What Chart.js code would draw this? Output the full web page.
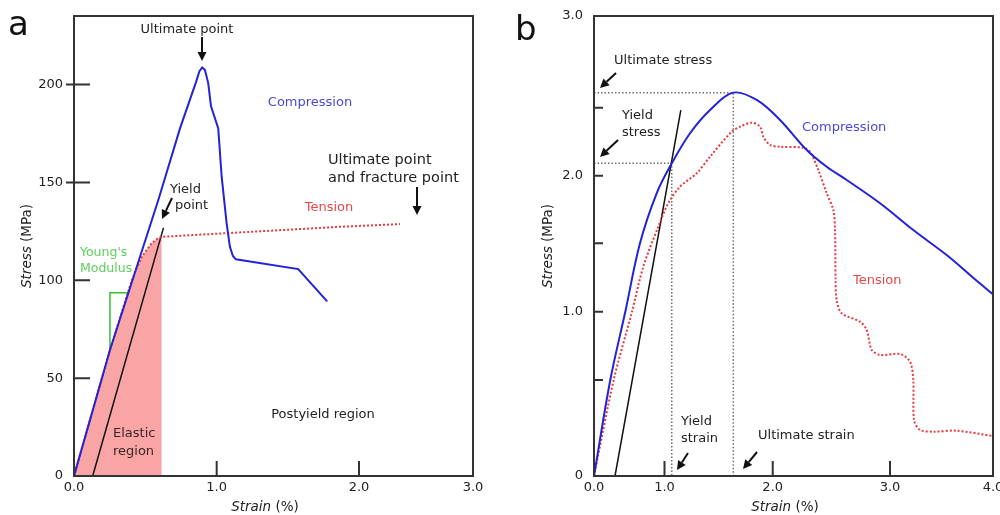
<!DOCTYPE html>
<html>
<head>
<meta charset="utf-8">
<title>Stress-strain curves</title>
<script src="https://cdn.jsdelivr.net/npm/chart.js@4.4.1/dist/chart.umd.min.js"></script>
<style>
  html, body { margin: 0; padding: 0; background: #fff; }
  .panel { position: absolute; top: 0; width: 500px; height: 515px; }
  #panelA { left: 0; }
  #panelB { left: 500px; }
</style>
</head>
<body>
<div class="panel" id="panelA"><canvas id="chartA" width="500" height="515"></canvas></div>
<div class="panel" id="panelB"><canvas id="chartB" width="500" height="515"></canvas></div>
<script>
// ---- panel a: strain (%) vs stress (MPa) ----
const compStrainA = [0, 0.252, 0.591, 0.743, 0.855, 0.879, 0.899, 0.918, 0.941, 0.960, 1.011, 1.035, 1.070, 1.093, 1.114, 1.135, 1.573, 1.773];
const compStressA = [0, 64.4, 141.0, 177.6, 201.2, 206.8, 208.7, 207.4, 200.6, 189.0, 177.6, 152.9, 129.1, 117.1, 112.4, 110.7, 105.7, 89.5];
const tensStrainA = [0, 0.252, 0.357, 0.399, 0.439, 0.474, 0.509, 0.540, 0.568, 0.592, 0.615, 1.866, 2.360];
const tensStressA = [0, 64.4, 88.9, 98.6, 106.2, 111.8, 115.4, 118.5, 120.3, 121.6, 122.2, 127.3, 128.7];
const yieldIndexA = 10;            // last point of the elastic part of the tension curve
const offsetStrainA = [0.131, 0.626];
const offsetStressA = [0, 126.5];
const youngStressA = [64.4, 93.6]; // rise of the modulus triangle
const xTicksA = [0, 1, 2, 3];
const xLabelsA = ['0.0', '1.0', '2.0', '3.0'];
const yTicksA = [0, 50, 100, 150, 200];
const yLabelsA = ['0', '50', '100', '150', '200'];

// ---- panel b ----
const compStrainB = [0, 0.231, 0.444, 0.652, 0.889, 1.067, 1.236, 1.421, 1.636, 1.852, 2.062, 2.290, 2.460, 2.631, 2.915, 3.226, 3.550, 3.825, 4.0];
const compStressB = [0, 0.5, 1.0, 1.5, 1.870, 2.091, 2.312, 2.483, 2.582, 2.542, 2.410, 2.189, 2.066, 1.968, 1.796, 1.598, 1.414, 1.237, 1.127];
const tensStrainB = [0, 0.279, 0.539, 0.699, 0.912, 1.035, 1.143, 1.298, 1.421, 1.621, 1.698, 1.806, 1.883, 1.913, 1.975, 2.062, 2.261, 2.318, 2.389, 2.460, 2.517, 2.531, 2.536, 2.545, 2.588, 2.744, 2.801, 2.844, 2.915, 3.097, 3.194, 3.226, 3.233, 3.291, 3.420, 3.648, 4.0];
const tensStressB = [0, 0.5, 1.0, 1.329, 1.623, 1.796, 1.919, 2.018, 2.140, 2.324, 2.360, 2.390, 2.360, 2.287, 2.226, 2.213, 2.206, 2.176, 2.042, 1.870, 1.746, 1.598, 1.232, 1.086, 0.988, 0.927, 0.866, 0.720, 0.683, 0.690, 0.634, 0.5, 0.292, 0.240, 0.231, 0.236, 0.208];
const yieldIndexB = 5;             // compression point where the offset line crosses
const offsetStrainB = [0.298, 1.150];
const offsetStressB = [0, 2.478];
const xTicksB = [0, 1, 2, 3, 4];
const xLabelsB = ['0.0', '1.0', '2.0', '3.0', '4.0'];
const yTicksB = [0, 0.5, 1, 1.5, 2, 2.5, 3];
const yLabelsB = ['0', '', '1.0', '', '2.0', '', '3.0'];

const BLUE = '#2222d8', BLUE_TEXT = '#4a4ad8';
const RED = '#e8383d', RED_TEXT = '#e6474b';
const GREEN = '#2fc42f', GREEN_TEXT = '#5ccf5c';
const INK = '#222';
const FONT = "'DejaVu Sans', Verdana, sans-serif";

Chart.defaults.font.family = FONT;
Chart.defaults.font.size = 13;
Chart.defaults.color = INK;

// piecewise-linear axis: every labelled interval gets its own stretch of the axis
class SegmentScale extends Chart.LinearScale {
  getPixelForValue(value) {
    if (value === null || value === undefined || isNaN(value)) return NaN;
    const b = this.options.breaks, s = this.options.stops;
    let i = 1;
    while (i < b.length - 1 && value > b[i]) i++;
    const t = (value - b[i - 1]) / (b[i] - b[i - 1]);
    return this.getPixelForDecimal(s[i - 1] + t * (s[i] - s[i - 1]));
  }
  getValueForPixel(pixel) {
    const b = this.options.breaks, s = this.options.stops;
    const d = this.getDecimalForPixel(pixel);
    let i = 1;
    while (i < s.length - 1 && d > s[i]) i++;
    const t = (d - s[i - 1]) / (s[i] - s[i - 1]);
    return b[i - 1] + t * (b[i] - b[i - 1]);
  }
}
SegmentScale.id = 'segment';
SegmentScale.defaults = {};
Chart.register(SegmentScale);

const pts = (xs, ys) => xs.map((x, i) => ({ x, y: ys[i] }));

function interpX(xs, ys, y) {
  for (let i = 1; i < ys.length; i++) {
    if (ys[i] >= y) return xs[i - 1] + (y - ys[i - 1]) / (ys[i] - ys[i - 1]) * (xs[i] - xs[i - 1]);
  }
  return xs[xs.length - 1];
}

function xAxis(ticks, labels, extra) {
  return Object.assign({
    grid: { display: false, drawTicks: false },
    border: { display: false },
    ticks: { autoSkip: false, maxRotation: 0, padding: 4, color: INK, font: { size: 13 }, callback: (v, i) => labels[i] },
    afterBuildTicks: s => { s.ticks = ticks.map(v => ({ value: v })); },
    afterFit: s => { s.height = 39; s.paddingLeft = 0; s.paddingRight = 0; }
  }, extra);
}

function yAxis(ticks, labels, width, extra) {
  return Object.assign({
    grid: { display: false, drawTicks: false },
    border: { display: false },
    ticks: { autoSkip: false, padding: 11, color: INK, font: { size: 13 }, callback: (v, i) => labels[i] },
    afterBuildTicks: s => { s.ticks = ticks.map(v => ({ value: v })); },
    afterFit: s => { s.width = width; s.paddingTop = 0; s.paddingBottom = 0; }
  }, extra);
}

function drawArrow(ctx, x1, y1, x2, y2) {
  const a = Math.atan2(y2 - y1, x2 - x1);
  const head = 9, half = 4.5;
  const bx = x2 - head * Math.cos(a), by = y2 - head * Math.sin(a);
  ctx.strokeStyle = '#111';
  ctx.fillStyle = '#111';
  ctx.lineWidth = 2;
  ctx.beginPath(); ctx.moveTo(x1, y1); ctx.lineTo(bx, by); ctx.stroke();
  ctx.beginPath();
  ctx.moveTo(x2, y2);
  ctx.lineTo(bx + half * Math.sin(a), by - half * Math.cos(a));
  ctx.lineTo(bx - half * Math.sin(a), by + half * Math.cos(a));
  ctx.closePath(); ctx.fill();
}

// box, inward ticks, axis titles, panel letter and the callouts
function decor(o) {
  return {
    id: 'decor',
    afterDraw(chart) {
      const { ctx, chartArea: a, scales } = chart;
      ctx.save();
      ctx.strokeStyle = '#333';
      ctx.lineWidth = 2;
      ctx.strokeRect(a.left, a.top, a.right - a.left, a.bottom - a.top);

      ctx.beginPath();
      scales.x.ticks.forEach(t => {
        const px = scales.x.getPixelForValue(t.value);
        if (px <= a.left + 1 || px >= a.right - 1) return;
        ctx.moveTo(px, a.bottom); ctx.lineTo(px, a.bottom - o.xTick);
      });
      scales.y.ticks.forEach(t => {
        const py = scales.y.getPixelForValue(t.value);
        if (py <= a.top + 1 || py >= a.bottom - 1) return;
        ctx.moveTo(a.left - (t.value >= o.yTickOut ? 8 : 0), py); ctx.lineTo(a.left + o.yTick, py);
      });
      ctx.stroke();

      // axis titles with the italic quantity name
      ctx.fillStyle = INK;
      ctx.textBaseline = 'middle';
      const title = (name, unit, cx, cy, rot) => {
        ctx.save();
        ctx.translate(cx, cy);
        if (rot) ctx.rotate(-Math.PI / 2);
        ctx.font = 'italic 13.5px ' + FONT;
        const w1 = ctx.measureText(name).width;
        ctx.font = '13.5px ' + FONT;
        const w2 = ctx.measureText(unit).width;
        const x0 = -(w1 + w2) / 2;
        ctx.textAlign = 'left';
        ctx.font = 'italic 13.5px ' + FONT;
        ctx.fillText(name, x0, 0);
        ctx.font = '13.5px ' + FONT;
        ctx.fillText(unit, x0 + w1, 0);
        ctx.restore();
      };
      title('Strain', ' (%)', o.xTitle[0], o.xTitle[1], false);
      title('Stress', ' (MPa)', o.yTitle[0], o.yTitle[1], true);

      ctx.font = '34px ' + FONT;
      ctx.textAlign = 'left';
      ctx.textBaseline = 'alphabetic';
      ctx.fillStyle = '#111';
      ctx.fillText(o.letter, o.letterPos[0], o.letterPos[1]);

      ctx.textBaseline = 'middle';
      o.notes.forEach(n => {
        ctx.font = (n.size || 13) + 'px ' + FONT;
        ctx.fillStyle = n.c || INK;
        ctx.textAlign = n.align || 'left';
        ctx.fillText(n.t, n.x, n.y);
      });
      o.arrows.forEach(p => drawArrow(ctx, p[0], p[1], p[2], p[3]));
      ctx.restore();
    }
  };
}

const baseOptions = {
  responsive: false,
  animation: false,
  devicePixelRatio: 1,
  events: [],
  elements: { point: { radius: 0 }, line: { borderCapStyle: 'round' } },
  plugins: { legend: { display: false }, tooltip: { enabled: false } }
};

// ---- chart a ----
const youngX = youngStressA.map(v => interpX(compStrainA, compStressA, v));
new Chart(document.getElementById('chartA'), {
  type: 'line',
  data: {
    datasets: [
      { data: pts(compStrainA, compStressA), borderColor: BLUE, borderWidth: 2, tension: 0, fill: false },
      { data: pts(tensStrainA, tensStressA), borderColor: RED, borderWidth: 2, borderDash: [2, 2], borderCapStyle: 'butt', tension: 0, fill: false },
      { data: pts(offsetStrainA, offsetStressA), borderColor: '#111', borderWidth: 1.5, fill: false },
      { data: [{ x: youngX[0], y: youngStressA[0] }, { x: youngX[0], y: youngStressA[1] }, { x: youngX[1], y: youngStressA[1] }],
        borderColor: GREEN, borderWidth: 1.5, fill: false },
      { data: pts(tensStrainA.slice(0, yieldIndexA + 1), tensStressA.slice(0, yieldIndexA + 1)),
        borderWidth: 0, borderColor: 'rgba(0,0,0,0)', backgroundColor: '#faa5a5', fill: 'origin' }
    ]
  },
  options: Object.assign({}, baseOptions, {
    layout: { padding: { top: 16, right: 27, left: 0, bottom: 0 } },
    scales: {
      x: xAxis(xTicksA, xLabelsA, { type: 'segment', min: 0, max: 3, breaks: [0, 1, 2, 3], stops: [0, 0.3576, 0.7143, 1] }),
      y: yAxis(yTicksA, yLabelsA, 74, { type: 'linear', min: 0, max: 235 })
    }
  }),
  plugins: [decor({
    xTick: 15, yTick: 16, yTickOut: 150,
    xTitle: [265, 507], yTitle: [27, 246],
    letter: 'a', letterPos: [8, 35],
    notes: [
      { t: 'Ultimate point', x: 187, y: 30, align: 'center' },
      { t: 'Compression', x: 310, y: 103, align: 'center', c: BLUE_TEXT },
      { t: 'Ultimate point', x: 328, y: 160, size: 14.5 },
      { t: 'and fracture point', x: 328, y: 178, size: 14.5 },
      { t: 'Tension', x: 329, y: 208, align: 'center', c: RED_TEXT },
      { t: 'Yield', x: 170, y: 190 },
      { t: 'point', x: 175, y: 206 },
      { t: "Young's", x: 80, y: 253, c: GREEN_TEXT, size: 12.5 },
      { t: 'Modulus', x: 80, y: 269, c: GREEN_TEXT, size: 12.5 },
      { t: 'Elastic', x: 113, y: 434, c: '#3b2626' },
      { t: 'region', x: 113, y: 452, c: '#3b2626' },
      { t: 'Postyield region', x: 323, y: 415, align: 'center' }
    ],
    arrows: [[202, 37, 202, 61], [417, 187, 417, 215], [172, 198, 162, 219]]
  })]
});

// ---- chart b ----
const peakB = compStressB.indexOf(Math.max(...compStressB));
const ultX = compStrainB[peakB], ultY = compStressB[peakB];
const yldX = compStrainB[yieldIndexB], yldY = compStressB[yieldIndexB];
const guide = { borderColor: '#6e6e6e', borderWidth: 1.5, borderDash: [1.5, 2], borderCapStyle: 'butt', tension: 0, fill: false };
new Chart(document.getElementById('chartB'), {
  type: 'line',
  data: {
    datasets: [
      { data: pts(compStrainB, compStressB), borderColor: BLUE, borderWidth: 2, tension: 0.35, fill: false },
      { data: pts(tensStrainB, tensStressB), borderColor: RED, borderWidth: 2, borderDash: [2, 2], borderCapStyle: 'butt', tension: 0.3, fill: false },
      { data: pts(offsetStrainB, offsetStressB), borderColor: '#111', borderWidth: 1.5, fill: false },
      Object.assign({ data: [{ x: 0, y: ultY }, { x: ultX, y: ultY }, { x: ultX, y: 0 }] }, guide),
      Object.assign({ data: [{ x: 0, y: yldY }, { x: yldX, y: yldY }, { x: yldX, y: 0 }] }, guide)
    ]
  },
  options: Object.assign({}, baseOptions, {
    layout: { padding: { top: 16, right: 7, left: 0, bottom: 0 } },
    scales: {
      x: xAxis(xTicksB, xLabelsB, { type: 'segment', min: 0, max: 4, breaks: [0, 1, 2, 3, 4], stops: [0, 0.1767, 0.4479, 0.7419, 1] }),
      y: yAxis(yTicksB, yLabelsB, 94, { type: 'segment', min: 0, max: 3, breaks: [0, 0.5, 1, 1.5, 2, 2.5, 3], stops: [0, 0.2087, 0.3572, 0.5059, 0.6528, 0.8007, 1] })
    }
  }),
  plugins: [decor({
    xTick: 15, yTick: 9, yTickOut: 99,
    xTitle: [285, 507], yTitle: [48, 246],
    letter: 'b', letterPos: [15, 40],
    notes: [
      { t: 'Ultimate stress', x: 114, y: 61 },
      { t: 'Yield', x: 122, y: 116 },
      { t: 'stress', x: 122, y: 133 },
      { t: 'Compression', x: 302, y: 128, c: BLUE_TEXT },
      { t: 'Tension', x: 353, y: 281, c: RED_TEXT },
      { t: 'Yield', x: 181, y: 422 },
      { t: 'strain', x: 181, y: 439 },
      { t: 'Ultimate strain', x: 258, y: 436 }
    ],
    arrows: [[116, 73, 100, 88], [118, 140, 100, 157], [188, 453, 177, 470], [257, 452, 243, 469]]
  })]
});
</script>
</body>
</html>
